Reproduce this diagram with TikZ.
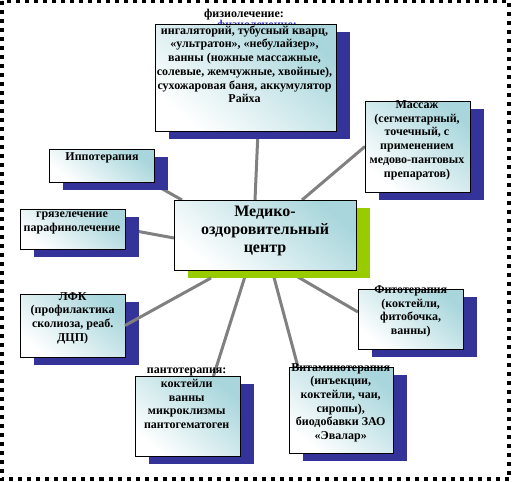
\documentclass[tikz,border=0pt]{standalone}
\usepackage{fontspec}
\setmainfont{Liberation Serif}
\usetikzlibrary{shadows}
\pgfdeclarelayer{bg}
\pgfsetlayers{bg,main}
\definecolor{sblue}{HTML}{333399}
\definecolor{lgreen}{HTML}{99CC00}
\definecolor{tealbox}{HTML}{A8D6DC}
\definecolor{conngray}{HTML}{808080}
\definecolor{ghostblue}{HTML}{3838C8}
\newcommand\lblfont{\bfseries\fontsize{12}{13.7}\selectfont}
\newcommand\ctrfont{\bfseries\fontsize{16}{17.8}\selectfont}
\begin{document}
\begin{tikzpicture}[x=1pt,y=-1pt,
  box/.style={draw=black, line width=1pt, inner sep=0pt, outer sep=0pt,
    anchor=north west, top color=tealbox, bottom color=white, shading angle=-40,
    drop shadow={shadow xshift=13.5pt, shadow yshift=-7.5pt, fill=#1, opacity=1}},
  box/.default=sblue,
  lbl/.style={font=\lblfont, align=center, inner sep=0pt, anchor=north},
  conn/.style={draw=conngray, line width=3pt}]
\useasboundingbox (0,0) rectangle (512,482);
\draw[line width=4pt, dash pattern=on 4pt off 5pt] (2,0.5) rectangle (509,479);
% header texts (the blue one is half hidden by the box)
\node[lbl, text=ghostblue] (ghost) at (257,19.5) {физиолечение:};
\node[lbl] (physhead) at (244,9) {физиолечение:};
% boxes
\node[box, minimum width=181pt, minimum height=107pt] (phys) at (155,24) {};
\node[box, minimum width=105pt, minimum height=91pt] (mas) at (365,101) {};
\node[box, minimum width=105pt, minimum height=33pt] (ippo) at (49,149) {};
\node[box, minimum width=105pt, minimum height=40pt] (gry) at (20,209) {};
\node[box=lgreen, minimum width=182pt, minimum height=70pt] (c) at (174,200) {};
\node[box, minimum width=105pt, minimum height=63pt] (lfk) at (20,294) {};
\node[box, minimum width=105pt, minimum height=60pt] (fito) at (358,289) {};
\node[box, minimum width=105pt, minimum height=80pt] (panto) at (135,376) {};
\node[box, minimum width=104pt, minimum height=86pt] (vit) at (289,367) {};
% connector drawn over its shadow
\draw[conn] (lfk.east) -- ([xshift=-54pt,yshift=-8pt]c.south);
% texts
\node[lbl] (tphys) at (244.5,25.5) {ингаляторий, тубусный кварц,\\«ультратон», «небулайзер»,\\ванны (ножные массажные,\\солевые, жемчужные, хвойные),\\сухожаровая баня, аккумулятор\\Райха};
\node[lbl] (tmas) at (417,100.5) {Массаж\\(сегментарный,\\точечный, с\\применением\\медово-пантовых\\препаратов)};
\node[lbl] (tippo) at (102,152.5) {Иппотерапия};
\node[lbl] (tgry) at (72,211.5) {грязелечение\\парафинолечение};
\node[lbl, font=\ctrfont] (tc) at (265,206) {Медико-\\оздоровительный\\центр};
\node[lbl] (tlfk) at (72.7,292) {ЛФК\\(профилактика\\сколиоза, реаб.\\ДЦП)};
\node[lbl] (tfito) at (410.7,285.5) {Фитотерапия\\(коктейли,\\фитобочка,\\ванны)};
\node[lbl] (tpanto) at (186.7,368) {пантотерапия:\\коктейли\\ванны\\микроклизмы\\пантогематоген};
\node[lbl] (tvit) at (340.7,363) {Витаминотерапия\\(инъекции,\\коктейли, чаи,\\сиропы),\\биодобавки ЗАО\\«Эвалар»};
% connectors behind everything
\begin{pgfonlayer}{bg}
\draw[conn] ([xshift=12.5pt]phys.south) -- ([xshift=-10pt]c.north);
\draw[conn] (mas.west) -- ([xshift=37pt]c.north);
\draw[conn] ([xshift=-4pt]ippo.south east) -- ([xshift=8pt]c.north west);
\draw[conn] (gry.east) -- ([yshift=-3pt]c.west);
\draw[conn] ([xshift=26pt]panto.north) -- ([xshift=-18pt]c.south);
\draw[conn] ([xshift=-43pt]vit.north) -- ([xshift=7pt]c.south);
\draw[conn] ([yshift=7pt]fito.west) -- ([xshift=21pt]c.south);
\end{pgfonlayer}
\end{tikzpicture}
\end{document}
